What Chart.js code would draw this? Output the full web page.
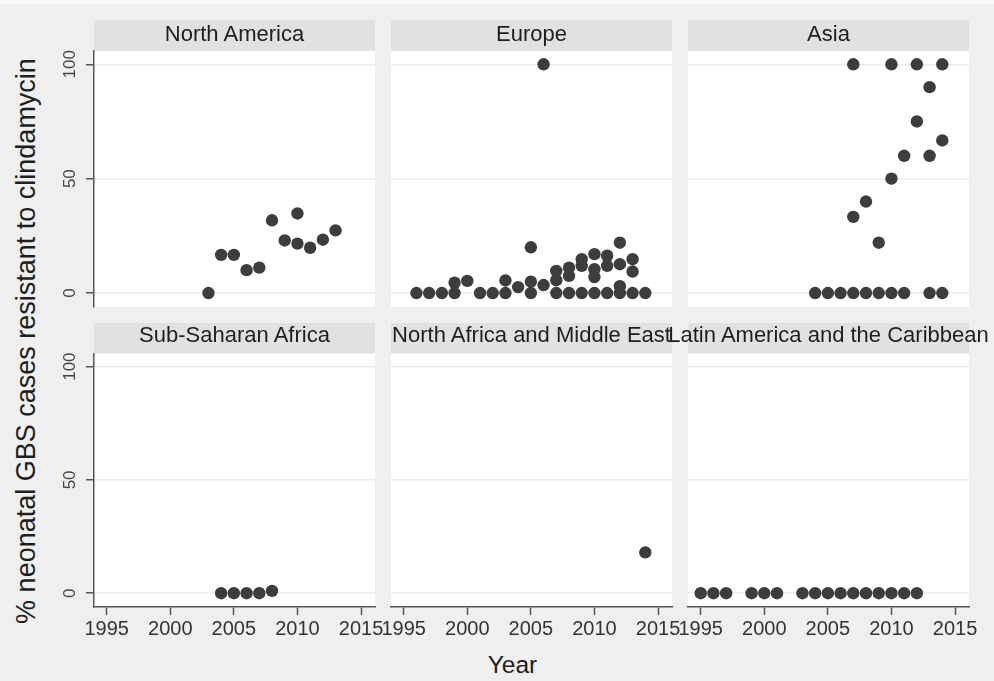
<!DOCTYPE html>
<html>
<head>
<meta charset="utf-8">
<script src="https://cdn.jsdelivr.net/npm/chart.js@4.4.1/dist/chart.umd.min.js"></script>
<style>
  html, body { margin: 0; padding: 0; }
  body {
    width: 994px; height: 681px; position: relative; overflow: hidden;
    background: #efefef; font-family: "Liberation Sans", Arial, sans-serif;
  }
  .topedge { position: absolute; left: 0; top: 0; width: 994px; height: 4px; background: #f7f7f7; }
  canvas { position: absolute; left: 0; top: 0; }
  .strip { position: absolute; background: #e1e1e1; }
  .ptitle {
    position: absolute; white-space: nowrap; font-size: 22px; line-height: 1;
    color: #1e1e1e; transform: translateX(-50%);
  }
  .ytitle {
    position: absolute; left: 25.5px; top: 340.5px; white-space: nowrap;
    font-size: 27px; line-height: 1; color: #1e1e1e;
    transform: translate(-50%, -50%) rotate(-90deg);
  }
  .xtitle {
    position: absolute; left: 512.5px; top: 652.5px; white-space: nowrap;
    font-size: 24.5px; line-height: 1; color: #1e1e1e; transform: translateX(-50%);
  }
</style>
</head>
<body>
<div class="topedge"></div>
<div class="ytitle">% neonatal GBS cases resistant to clindamycin</div>
<div class="xtitle">Year</div>
<script>
// Regions, in facet order (row by row)
const regionNames = [
  'North America', 'Europe', 'Asia',
  'Sub-Saharan Africa', 'North Africa and Middle East', 'Latin America and the Caribbean'
];

// Axis ticks
const xTickValues = [1995, 2000, 2005, 2010, 2015];
const yTickValues = [0, 50, 100];

// Study year and % resistant, per region
const northAmericaYears = [2003, 2004, 2005, 2006, 2007, 2008, 2009, 2010, 2010, 2011, 2012, 2013];
const northAmericaPct   = [0, 16.7, 16.7, 10, 11.1, 31.8, 23, 34.8, 21.6, 19.8, 23.3, 27.4];

const europeYears = [1996, 1997, 1998, 1999, 1999, 2000, 2001, 2002, 2003, 2003, 2004,
                     2005, 2005, 2005, 2006, 2006, 2007, 2007, 2007, 2008, 2008, 2008,
                     2009, 2009, 2009, 2010, 2010, 2010, 2010, 2011, 2011, 2011,
                     2012, 2012, 2012, 2012, 2013, 2013, 2013, 2014];
const europePct   = [0, 0, 0, 0, 4.5, 5.3, 0, 0, 0, 5.5, 2.6,
                     0, 5, 20, 3.5, 100, 0, 5.6, 9.7, 0, 7.5, 11.1,
                     0, 11.9, 14.8, 0, 7, 10.4, 17, 0, 11.9, 16.3,
                     0, 3, 12.6, 22, 0, 9.4, 14.8, 0];

const asiaYears = [2004, 2005, 2006, 2007, 2007, 2007, 2008, 2008, 2009, 2009, 2010, 2010, 2010,
                   2011, 2011, 2012, 2012, 2013, 2013, 2013, 2014, 2014, 2014];
const asiaPct   = [0, 0, 0, 0, 33.3, 100, 0, 40, 0, 22, 0, 50, 100,
                   0, 60, 75, 100, 0, 60, 90, 0, 66.7, 100];

const subSaharanYears = [2004, 2005, 2006, 2007, 2008];
const subSaharanPct   = [0, 0, 0, 0, 1];

const northAfricaMEYears = [2014];
const northAfricaMEPct   = [18];

const latinAmericaYears = [1995, 1996, 1997, 1999, 2000, 2001, 2003, 2004, 2005, 2006,
                           2007, 2008, 2009, 2010, 2011, 2012];
const latinAmericaPct   = [0, 0, 0, 0, 0, 0, 0, 0, 0, 0, 0, 0, 0, 0, 0, 0];

const regionSeries = [
  [northAmericaYears, northAmericaPct],
  [europeYears, europePct],
  [asiaYears, asiaPct],
  [subSaharanYears, subSaharanPct],
  [northAfricaMEYears, northAfricaMEPct],
  [latinAmericaYears, latinAmericaPct]
];

// Facet geometry
const W = 994, H = 681;
const COL_LEFT = [94, 391, 688];
const COL_W = 281;
const ROWS = [
  { strip: 20, titleTop: 23.1, top: 51, bottom: 307 },
  { strip: 323, titleTop: 323.9, top: 353.5, bottom: 607 }
];
const X_MIN = 1994, X_MAX = 2016.1;
const Y_MIN = -6.1, Y_MAX = 105.8;
const FONT = '"Liberation Sans", Arial, sans-serif';
const MARK = '#3d3d3d';
const AXIS = '#555555';

// White plot region behind each facet
const plotBackground = {
  id: 'plotBackground',
  beforeDraw(chart) {
    const { ctx, chartArea: a } = chart;
    ctx.save();
    ctx.fillStyle = '#ffffff';
    ctx.fillRect(a.left, a.top, a.right - a.left, a.bottom - a.top);
    ctx.restore();
  }
};

// Header strips sit behind the canvases
regionNames.forEach((name, i) => {
  const col = i % 3, row = Math.floor(i / 3);
  const s = document.createElement('div');
  s.className = 'strip';
  s.style.left = COL_LEFT[col] + 'px';
  s.style.width = COL_W + 'px';
  s.style.top = ROWS[row].strip + 'px';
  s.style.height = (ROWS[row].top - ROWS[row].strip) + 'px';
  document.body.appendChild(s);
});

regionNames.forEach((name, i) => {
  const col = i % 3, row = Math.floor(i / 3);
  const left = COL_LEFT[col], right = left + COL_W;
  const R = ROWS[row];
  const showY = col === 0, showX = row === 1;
  const yW = showY ? 50 : 0, xH = showX ? 40 : 0;
  const [years, pct] = regionSeries[i];

  const cv = document.createElement('canvas');
  cv.width = W; cv.height = H;
  cv.style.width = W + 'px'; cv.style.height = H + 'px';
  document.body.appendChild(cv);

  new Chart(cv, {
    type: 'scatter',
    data: {
      datasets: [{
        data: years.map((yr, k) => ({ x: yr, y: pct[k] })),
        backgroundColor: MARK,
        borderWidth: 0,
        pointRadius: 6.2,
        pointHoverRadius: 6.2
      }]
    },
    options: {
      responsive: false,
      animation: false,
      devicePixelRatio: 1,
      events: [],
      layout: {
        padding: { left: left - yW, right: W - right, top: R.top, bottom: H - R.bottom - xH }
      },
      plugins: { legend: { display: false }, tooltip: { enabled: false } },
      scales: {
        x: {
          type: 'linear', min: X_MIN, max: X_MAX, display: showX,
          afterBuildTicks: s => { s.ticks = xTickValues.map(v => ({ value: v })); },
          afterFit: s => { s.height = xH; },
          grid: { drawOnChartArea: false, drawTicks: true, tickLength: 8, tickWidth: 1.5, tickColor: AXIS },
          border: { display: true, color: AXIS, width: 1.5 },
          ticks: {
            font: { family: FONT, size: 20 }, color: '#333333', padding: 2,
            maxRotation: 0, autoSkip: false, callback: v => String(v)
          }
        },
        y: {
          type: 'linear', min: Y_MIN, max: Y_MAX,
          afterBuildTicks: s => { s.ticks = yTickValues.map(v => ({ value: v })); },
          afterFit: s => { s.width = yW; },
          grid: { color: '#ebebeb', lineWidth: 1.5, drawTicks: showY, tickLength: 8, tickWidth: 1.5, tickColor: AXIS },
          border: { display: showY, color: AXIS, width: 1.5 },
          ticks: {
            display: showY, font: { family: FONT, size: 17 }, color: '#444444',
            minRotation: 90, maxRotation: 90, crossAlign: 'center', padding: 2,
            autoSkip: false, callback: v => String(v)
          }
        }
      }
    },
    plugins: [plotBackground]
  });
});

// Facet titles drawn last so later ones overlap earlier ones
regionNames.forEach((name, i) => {
  const col = i % 3, row = Math.floor(i / 3);
  const t = document.createElement('div');
  t.className = 'ptitle';
  t.textContent = name;
  t.style.left = (COL_LEFT[col] + COL_W / 2) + 'px';
  t.style.top = ROWS[row].titleTop + 'px';
  document.body.appendChild(t);
});
</script>
</body>
</html>
